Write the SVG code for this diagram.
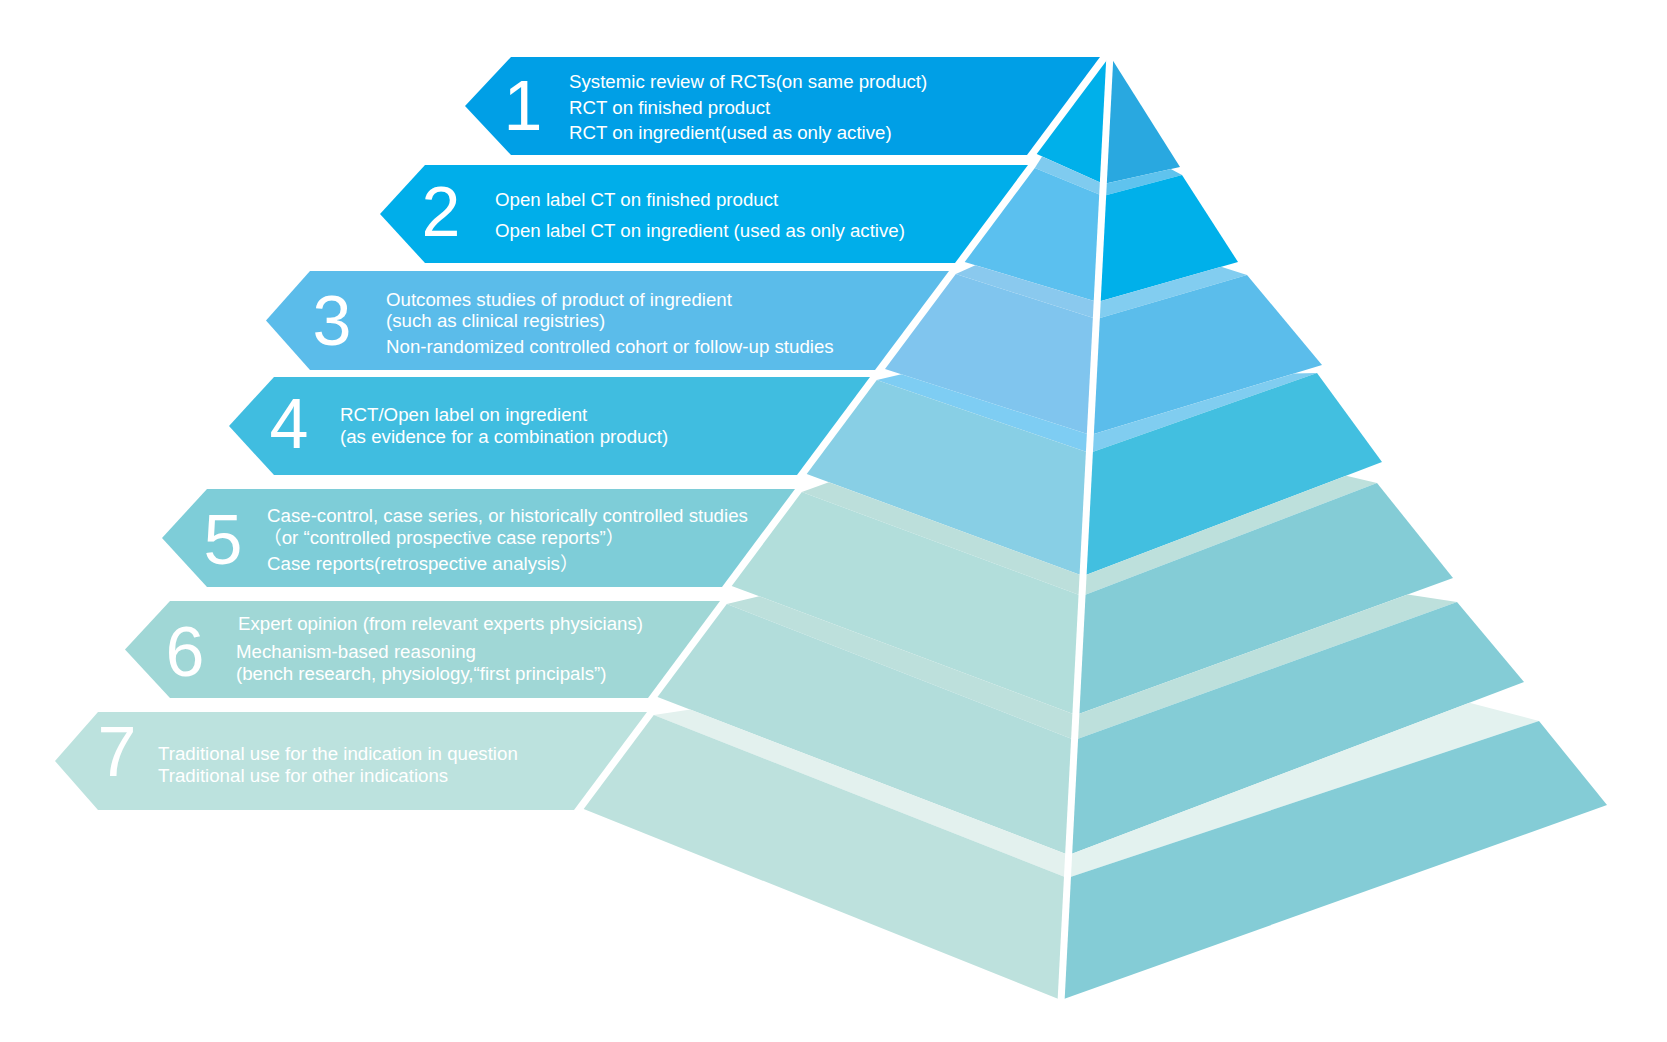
<svg xmlns="http://www.w3.org/2000/svg" width="1667" height="1042" viewBox="0 0 1667 1042">
<style>
.t{font-family:"Liberation Sans",Arial,"Noto Sans CJK SC",sans-serif;font-size:18.7px;fill:#ffffff}
.n{font-family:"Liberation Sans",Arial,sans-serif;font-size:70px;fill:#ffffff;text-anchor:middle}
.b1{fill:#009fe6}.b2{fill:#00aeea}.b3{fill:#5bbcea}.b4{fill:#40bde0}.b5{fill:#7ecdd8}.b6{fill:#a0d7d6}.b7{fill:#bce2de}
.ll1{fill:#00b0ea}.lb2{fill:#7fcbef}.ll2{fill:#5bc0ef}.lb3{fill:#8ac9ee}.ll3{fill:#80c5ee}.lb4{fill:#7ecdf3}.ll4{fill:#88cfe5}
.lb5{fill:#bcdfdb}.ll5{fill:#b2dedb}.lb6{fill:#bde0dc}.ll6{fill:#b2dddb}.lb7{fill:#e3f1ee}.ll7{fill:#bde1dd}
.rl1{fill:#29a8e0}.rb2{fill:#5fc3ee}.rl2{fill:#00b0ea}.rb3{fill:#82cdf0}.rl3{fill:#5bbdeb}.rb4{fill:#80cdf0}.rl4{fill:#42bfe0}
.rb5{fill:#bde0dc}.rl5{fill:#84ccd6}.rb6{fill:#bde0dc}.rl6{fill:#84ccd6}.rb7{fill:#e3f2ef}.rl7{fill:#84ccd6}
</style>
<rect width="1667" height="1042" fill="#ffffff"/>
<g id="pyramid">
<polygon class="ll1" points="1110,56 1103.6,184 1036.7,154"/>
<polygon class="lb2" points="1042.1,156.4 1103.6,184 1103,196 1034.8,168"/>
<polygon class="ll2" points="1034.8,168 1103,196 1097.5,302 964.7,262"/>
<polygon class="lb3" points="975.3,265.2 1097.5,302 1096.6,319 955.8,274"/>
<polygon class="ll3" points="955.8,274 1096.6,319 1090.5,435 885,369"/>
<polygon class="lb4" points="901.4,374.3 1090.5,435 1089.6,453 876.8,380"/>
<polygon class="ll4" points="876.8,380 1089.6,453 1083.2,576 806.7,474"/>
<polygon class="lb5" points="828.8,482.2 1083.2,576 1082.1,596 801.8,492"/>
<polygon class="ll5" points="801.8,492 1082.1,596 1075.9,715 731.7,586"/>
<polygon class="lb6" points="759.2,596.3 1075.9,715 1074.6,740 726.8,604"/>
<polygon class="ll6" points="726.8,604 1074.6,740 1068.6,855 657.5,697"/>
<polygon class="lb7" points="690.4,709.6 1068.6,855 1067.4,878 653.8,715"/>
<polygon class="ll7" points="653.8,715 1067.4,878 1061,1000 583.7,809"/>
<polygon class="rl1" points="1110,56 1180,167 1103.6,184"/>
<polygon class="rb2" points="1103.6,184 1170.8,169 1182,175 1103,196"/>
<polygon class="rl2" points="1103,196 1182,175 1238,262 1097.5,302"/>
<polygon class="rb3" points="1097.5,302 1221.1,266.8 1247,275 1096.6,319"/>
<polygon class="rl3" points="1096.6,319 1247,275 1322,365 1090.5,435"/>
<polygon class="rb4" points="1090.5,435 1294.2,373.4 1317,373 1089.6,453"/>
<polygon class="rl4" points="1089.6,453 1317,373 1382,462 1083.2,576"/>
<polygon class="rb5" points="1083.2,576 1346.1,475.7 1377,483 1082.1,596"/>
<polygon class="rl5" points="1082.1,596 1377,483 1453,578 1075.9,715"/>
<polygon class="rb6" points="1075.9,715 1407.7,594.4 1457,602 1074.6,740"/>
<polygon class="rl6" points="1074.6,740 1457,602 1524,682 1068.6,855"/>
<polygon class="rb7" points="1068.6,855 1469.4,702.8 1539,721 1067.4,878"/>
<polygon class="rl7" points="1067.4,878 1539,721 1607,805 1061,1000"/>
<line x1="1110.3" y1="48" x2="1060.7" y2="1008" stroke="#ffffff" stroke-width="7"/>
</g>
<g id="level1">
<polygon class="b1" points="511,57 1100,57 1027,155 511,155 465,106"/>
<text class="n" x="523" y="130">1</text>
<text class="t" x="569" y="88">Systemic review of RCTs(on same product)</text>
<text class="t" x="569" y="114">RCT on finished product</text>
<text class="t" x="569" y="139">RCT on ingredient(used as only active)</text>
</g>
<g id="level2">
<polygon class="b2" points="425,165 1028,165 955,263 425,263 380,214"/>
<text class="n" x="441" y="236">2</text>
<text class="t" x="495" y="206">Open label CT on finished product</text>
<text class="t" x="495" y="237">Open label CT on ingredient (used as only active)</text>
</g>
<g id="level3">
<polygon class="b3" points="310,271 949,271 875,370 310,370 266,320.5"/>
<text class="n" x="332" y="345">3</text>
<text class="t" x="386" y="306">Outcomes studies of product of ingredient</text>
<text class="t" x="386" y="327">(such as clinical registries)</text>
<text class="t" x="386" y="353">Non-randomized controlled cohort or follow-up studies</text>
</g>
<g id="level4">
<polygon class="b4" points="274,377 870,377 797,475 274,475 229,426"/>
<text class="n" x="289" y="448">4</text>
<text class="t" x="340" y="421">RCT/Open label on ingredient</text>
<text class="t" x="340" y="443">(as evidence for a combination product)</text>
</g>
<g id="level5">
<polygon class="b5" points="207,489 795,489 722,587 207,587 162,538"/>
<text class="n" x="223" y="564">5</text>
<text class="t" x="267" y="522">Case-control, case series, or historically controlled studies</text>
<text class="t" x="263" y="544">（or “controlled prospective case reports”）</text>
<text class="t" x="267" y="570">Case reports(retrospective analysis）</text>
</g>
<g id="level6">
<polygon class="b6" points="170,601 720,601 648,698 170,698 125,649.5"/>
<text class="n" x="185" y="676">6</text>
<text class="t" x="238" y="630">Expert opinion (from relevant experts physicians)</text>
<text class="t" x="236" y="658">Mechanism-based reasoning</text>
<text class="t" x="236" y="680">(bench research, physiology,“first principals”)</text>
</g>
<g id="level7">
<polygon class="b7" points="98,712 647,712 574,810 98,810 55,761"/>
<text class="n" x="117" y="776">7</text>
<text class="t" x="158" y="760">Traditional use for the indication in question</text>
<text class="t" x="158" y="782">Traditional use for other indications</text>
</g>
</svg>
